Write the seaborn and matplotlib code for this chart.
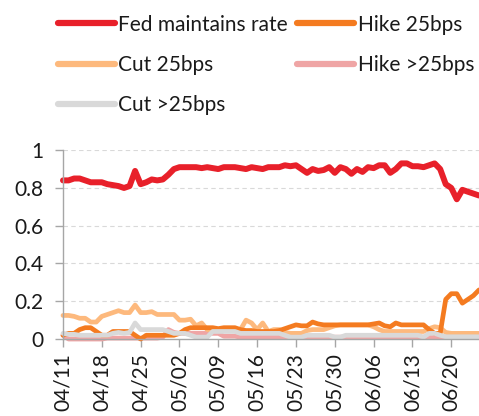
import matplotlib
matplotlib.use('Agg')
import matplotlib.pyplot as plt
import matplotlib.dates as mdates
import pandas as pd
import seaborn as sns

sns.set_style('white')
plt.rcParams['font.family'] = ['Lato', 'DejaVu Sans']

# valores (probabilidades diarias, 04/11 a 06/25)
datas = pd.date_range('2024-04-11', periods=76, freq='D')

fed_mantem = [0.84, 0.84, 0.85, 0.85, 0.84, 0.83, 0.83, 0.83, 0.82, 0.815,
              0.81, 0.80, 0.81, 0.89, 0.82, 0.83, 0.845, 0.84, 0.845, 0.87,
              0.90, 0.91, 0.91, 0.91, 0.91, 0.905, 0.91, 0.905, 0.90, 0.91,
              0.91, 0.91, 0.905, 0.90, 0.91, 0.905, 0.90, 0.91, 0.91, 0.91,
              0.92, 0.915, 0.92, 0.90, 0.88, 0.90, 0.89, 0.895, 0.91, 0.88,
              0.91, 0.90, 0.875, 0.90, 0.885, 0.91, 0.905, 0.92, 0.92, 0.88,
              0.90, 0.93, 0.93, 0.915, 0.915, 0.91, 0.92, 0.93, 0.90, 0.82,
              0.80, 0.74, 0.79, 0.78, 0.77, 0.76]

alta_25 = [0.02, 0.03, 0.03, 0.05, 0.06, 0.06, 0.04, 0.02, 0.02, 0.04,
           0.04, 0.04, 0.04, 0.02, 0.0, 0.02, 0.02, 0.02, 0.02, 0.02,
           0.02, 0.03, 0.05, 0.06, 0.06, 0.06, 0.06, 0.06, 0.055, 0.06,
           0.06, 0.06, 0.05, 0.045, 0.045, 0.04, 0.04, 0.04, 0.04, 0.045,
           0.055, 0.065, 0.075, 0.07, 0.07, 0.09, 0.08, 0.075, 0.075, 0.075,
           0.075, 0.075, 0.075, 0.075, 0.075, 0.075, 0.08, 0.085, 0.07, 0.065,
           0.085, 0.075, 0.075, 0.075, 0.075, 0.075, 0.05, 0.03, 0.03, 0.21,
           0.24, 0.24, 0.19, 0.21, 0.23, 0.26]

corte_25 = [0.125, 0.125, 0.12, 0.11, 0.11, 0.09, 0.09, 0.12, 0.13, 0.14,
            0.15, 0.14, 0.14, 0.18, 0.14, 0.14, 0.145, 0.13, 0.13, 0.13,
            0.13, 0.10, 0.10, 0.105, 0.07, 0.085, 0.05, 0.05, 0.05, 0.05,
            0.05, 0.05, 0.05, 0.10, 0.085, 0.05, 0.085, 0.04, 0.05, 0.05,
            0.035, 0.03, 0.03, 0.03, 0.045, 0.05, 0.05, 0.05, 0.06, 0.07,
            0.075, 0.075, 0.075, 0.075, 0.075, 0.075, 0.065, 0.05, 0.04, 0.04,
            0.04, 0.04, 0.04, 0.04, 0.04, 0.04, 0.055, 0.065, 0.06, 0.035,
            0.03, 0.03, 0.03, 0.03, 0.03, 0.03]

alta_mais25 = [0.02, 0.0, 0.0, 0.0, 0.0, 0.0, 0.0, 0.0, 0.005, 0.005,
               0.005, 0.005, 0.005, 0.005, 0.005, 0.005, 0.005, 0.005, 0.01, 0.05,
               0.035, 0.03, 0.03, 0.03, 0.03, 0.03, 0.03, 0.03, 0.03, 0.015,
               0.015, 0.015, 0.01, 0.01, 0.01, 0.01, 0.01, 0.01, 0.01, 0.01,
               0.01, 0.01, 0.01, 0.01, 0.01, 0.01, 0.01, 0.01, 0.01, 0.01,
               0.01, 0.01, 0.01, 0.01, 0.01, 0.01, 0.01, 0.01, 0.01, 0.01,
               0.01, 0.01, 0.01, 0.01, 0.01, 0.01, 0.01, 0.01, 0.01, 0.01,
               0.01, 0.01, 0.01, 0.01, 0.01, 0.01]

corte_mais25 = [0.03, 0.025, 0.025, 0.02, 0.02, 0.02, 0.02, 0.02, 0.02, 0.03,
                0.035, 0.03, 0.035, 0.085, 0.05, 0.05, 0.05, 0.05, 0.05, 0.04,
                0.03, 0.03, 0.03, 0.02, 0.01, 0.01, 0.01, 0.04, 0.04, 0.04,
                0.04, 0.04, 0.03, 0.03, 0.03, 0.03, 0.03, 0.03, 0.03, 0.03,
                0.02, 0.01, 0.01, 0.01, 0.02, 0.02, 0.02, 0.02, 0.02, 0.01,
                0.01, 0.02, 0.02, 0.02, 0.02, 0.02, 0.02, 0.02, 0.02, 0.02,
                0.02, 0.02, 0.02, 0.02, 0.02, 0.01, 0.03, 0.03, 0.02, 0.012,
                0.012, 0.012, 0.012, 0.012, 0.012, 0.012]

series = {
    'Hike >25bps': (alta_mais25, '#EFA5A5', 3.4),
    'Cut 25bps': (corte_25, '#FDB97D', 3.4),
    'Hike 25bps': (alta_25, '#F47B20', 3.4),
    'Cut >25bps': (corte_mais25, '#D9D9D9', 3.4),
    'Fed maintains rate': (fed_mantem, '#E8202A', 4.3),
}

fig = plt.figure(figsize=(4.79, 4.16), dpi=100)
ax = fig.add_axes([0.1315, 0.185, 0.8685, 0.454])

for nome, (valores, cor, lw) in series.items():
    sns.lineplot(x=datas, y=valores, ax=ax, color=cor, linewidth=lw,
                 label=nome, clip_on=False, legend=False)

ax.set_xlim(datas[0], datas[-1])
ax.set_ylim(0, 1)
ax.set_yticks([0, 0.2, 0.4, 0.6, 0.8, 1.0])
ax.set_yticklabels(['0', '0.2', '0.4', '0.6', '0.8', '1'])
ax.set_xticks(datas[::7])
ax.xaxis.set_major_formatter(mdates.DateFormatter('%m/%d'))
plt.setp(ax.get_xticklabels(), rotation=90)

for y in [0.2, 0.4, 0.6, 0.8, 1.0]:
    ax.axhline(y, color='#D9D9D9', linestyle=(0, (4, 3)), linewidth=0.8, zorder=0)

for lado in ['top', 'right']:
    ax.spines[lado].set_visible(False)
for lado in ['left', 'bottom']:
    ax.spines[lado].set_color('#A6A6A6')
    ax.spines[lado].set_linewidth(1)
ax.tick_params(axis='both', length=6, width=1, color='#A6A6A6', labelsize=15,
               labelcolor='#1A1A1A', direction='out')
ax.tick_params(axis='y', left=True, pad=8)
ax.tick_params(axis='x', bottom=True, pad=4)
ax.set_xlabel('')
ax.set_ylabel('')

linhas = {l.get_label(): l for l in ax.get_lines()}
ordem = ['Fed maintains rate', 'Cut 25bps', 'Cut >25bps', 'Hike 25bps', 'Hike >25bps']
hs = [linhas[n] for n in ordem]
leg = fig.legend(hs, ordem, ncol=2, loc='upper left', bbox_to_anchor=(0.09, 1.0),
                 frameon=False, fontsize=15, handlelength=2.75, handletextpad=0.15,
                 labelspacing=0.98, columnspacing=0.45, borderaxespad=0.3)
for h in leg.get_lines():
    h.set_linewidth(4.5)
    h.set_solid_capstyle('round')
for t in leg.get_texts():
    t.set_color('#1A1A1A')

fig.savefig('out.png', dpi=100)
